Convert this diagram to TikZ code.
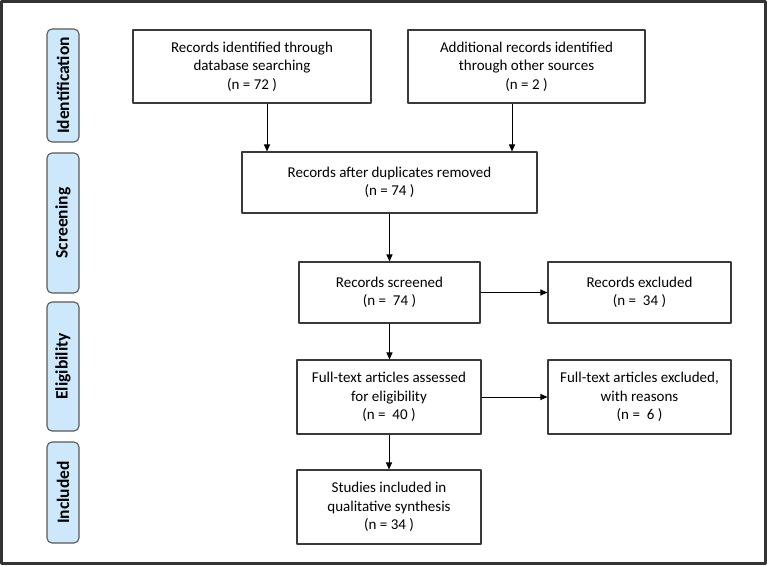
\documentclass[tikz,border=0pt]{standalone}
\usepackage{fontspec}
\setmainfont{Carlito}
\usetikzlibrary{arrows.meta}
\definecolor{phasefill}{HTML}{CDE8FA}
\definecolor{edgegray}{HTML}{3A3A3A}
\begin{document}
\begin{tikzpicture}[x=1pt, y=-1pt, font=\fontsize{15}{18.5}\selectfont, line join=round,
		>={Triangle[length=7pt,width=6pt]},
		box/.style={draw=edgegray, line width=1.1pt, align=center, inner sep=0pt},
		phase/.style={draw=edgegray!85, line width=1.1pt, fill=phasefill, rounded corners=5pt, rotate=90,
			minimum height=32pt, inner sep=0pt, font=\fontsize{17.5}{20}\selectfont\bfseries},
		link/.style={->, line width=1pt, draw=black}]
			\useasboundingbox (0,0) rectangle (767,565);
			\draw[line width=3pt, draw=black!80] (1.5,1.5) rectangle (765.5,563.5);
			% phases on the left
			\node[phase, minimum width=113pt] (ident) at (63,85.5) {Identification};
			\node[phase, minimum width=140pt] (screening) at (63,223) {Screening};
			\node[phase, minimum width=129pt] (elig) at (63,366.5) {Eligibility};
			\node[phase, minimum width=101pt] (incl) at (63,492.5) {Included};
			% flow boxes
			\node[box, minimum width=238pt, minimum height=73pt] (dbrec) at (252,66.5) {Records identified through\\database searching\\(n = 72 )};
			\node[box, minimum width=237pt, minimum height=73pt] (otherrec) at (526.5,66.5) {Additional records identified\\through other sources\\(n = 2 )};
			\node[box, minimum width=295pt, minimum height=61pt] (dedup) at (389.5,182.5) {Records after duplicates removed\\(n = 74 )};
			\node[box, minimum width=181pt, minimum height=61pt] (screened) at (389.5,292.5) {Records screened\\(n = \ 74 )};
			\node[box, minimum width=183pt, minimum height=61pt] (excluded) at (639.5,292.5) {Records excluded\\(n = \ 34 )};
			\node[box, minimum width=184pt, minimum height=74pt] (fulltext) at (389,397) {Full-text articles assessed\\for eligibility\\(n = \ 40 )};
			\node[box, minimum width=183pt, minimum height=74pt] (ftexcl) at (639.5,397) {Full-text articles excluded,\\with reasons\\(n = \ 6 )};
			\node[box, minimum width=184pt, minimum height=74pt] (studies) at (389,507) {Studies included in\\qualitative synthesis\\(n = 34 )};
			% connectors
			\draw[link] ([xshift=15pt]dbrec.south) -- ([xshift=15pt]dbrec.south |- dedup.north);
			\draw[link] ([xshift=-14.5pt]otherrec.south) -- ([xshift=-14.5pt]otherrec.south |- dedup.north);
			\draw[link] (dedup.south) -- (screened.north);
			\draw[link] (screened.east) -- (excluded.west);
			\draw[link] (screened.south) -- (screened.south |- fulltext.north);
			\draw[link] (fulltext.east) -- (ftexcl.west);
			\draw[link] (fulltext.south) -- (studies.north);
		\end{tikzpicture}
\end{document}
